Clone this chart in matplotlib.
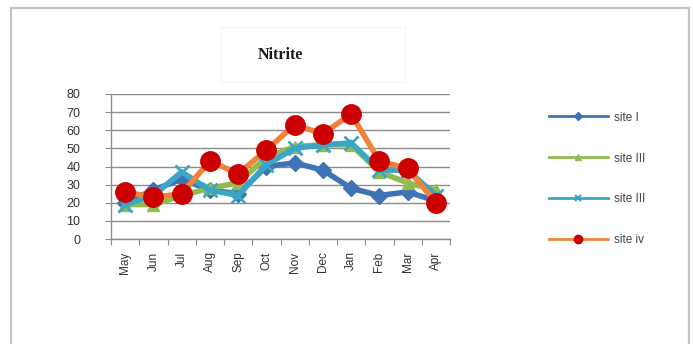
import matplotlib
matplotlib.use("Agg")
import matplotlib.pyplot as plt
from matplotlib.lines import Line2D
from matplotlib.patches import Rectangle

months = ["May", "Jun", "Jul", "Aug", "Sep", "Oct", "Nov", "Dec", "Jan", "Feb", "Mar", "Apr"]
site_1 = [20, 27, 33, 27, 25, 40, 42, 38, 28, 24, 26, 21]
site_2 = [19, 19, 24, 28, 31, 45, 51, 52, 52, 37, 31, 27]
site_3 = [19, 24, 37, 27, 24, 41, 50, 52, 53, 38, 38, 24]
site_4 = [26, 23, 25, 43, 36, 49, 63, 58, 69, 43, 39, 20]
labels = ["site I", "site III", "site III", "site iv"]
yticks = [0, 10, 20, 30, 40, 50, 60, 70, 80]

W, H = 693, 344
fig = plt.figure(figsize=(W / 100, H / 100), dpi=100)
fig.patch.set_facecolor("white")

# chart area border (bottom edge falls outside the image)
fig.add_artist(Rectangle((11 / W, -0.05), (689 - 11) / W, 1.05 - 8 / H, transform=fig.transFigure,
                         fill=False, edgecolor="#c4c4c4", linewidth=1.6))
# faint title box
fig.add_artist(Rectangle((220 / W, 1 - 82 / H), (405 - 220) / W, (82 - 27) / H,
                         transform=fig.transFigure, fill=False, edgecolor="#f5f5f5", linewidth=0.8))
fig.text(280 / W, 1 - 55 / H, "Nitrite", ha="center", va="center",
         family="Liberation Serif", fontweight="bold", fontsize=11.5, color="#1a1a1a")

ax = fig.add_axes([111 / W, 1 - 239 / H, (450 - 111) / W, (239 - 94) / H])
x = list(range(len(months)))

ax.set_xlim(-0.5, len(months) - 0.5)
ax.set_ylim(0, 80)
ax.set_yticks(yticks)
ax.set_yticklabels([str(v) for v in yticks])
ax.yaxis.grid(True, color="#8c8c8c", linewidth=1.0)
ax.set_axisbelow(True)
for s in ["top", "right"]:
    ax.spines[s].set_visible(False)
for s in ["left", "bottom"]:
    ax.spines[s].set_color("#8c8c8c")
    ax.spines[s].set_linewidth(1.0)

ax.set_xticks([i - 0.5 for i in range(len(months) + 1)])
ax.set_xticklabels([])
ax.set_xticks(x, minor=True)
ax.set_xticklabels(months, minor=True, rotation=90, fontsize=8.5, color="#333333",
                   family="Liberation Sans")
ax.tick_params(axis="x", which="major", length=4, color="#8c8c8c", direction="out")
ax.tick_params(axis="x", which="minor", length=0, pad=9)
ax.tick_params(axis="y", length=4, color="#8c8c8c", direction="out", labelsize=9,
               labelcolor="#333333", pad=18)
for t in ax.get_yticklabels():
    t.set_family("Liberation Sans")

c1, c2, c3, c4 = "#3f73b5", "#8fbc4f", "#3aa6c7", "#f0833a"
ax.plot(x, site_1, color=c1, lw=4, marker="D", ms=8, mfc=c1, mec=c1, zorder=3)
ax.plot(x, site_2, color=c2, lw=4, marker="^", ms=9, mfc=c2, mec=c2, zorder=4)
ax.plot(x, site_3, color=c3, lw=4, marker="x", ms=10, mew=2, mfc=c3, mec=c3, zorder=5)
ax.plot(x, site_4, color=c4, lw=4, marker="o", ms=14, mfc="#cc0000", mec="#cc0000", zorder=6)

handles = [
    Line2D([], [], color=c1, lw=2, marker="D", ms=4, mfc=c1, mec=c1),
    Line2D([], [], color=c2, lw=2, marker="^", ms=5, mfc=c2, mec=c2),
    Line2D([], [], color=c3, lw=2, marker="x", ms=5, mew=1.5, mec=c3),
    Line2D([], [], color=c4, lw=2, marker="o", ms=6, mfc="#cc0000", mec="#cc0000"),
]
leg = fig.legend(handles, labels, loc="center left", bbox_to_anchor=(538 / W, 1 - 179 / H),
                 frameon=False, labelspacing=2.45, handlelength=5.0,
                 handletextpad=0.5, prop={"family": "Liberation Sans", "size": 8.5})
for t in leg.get_texts():
    t.set_color("#444444")

fig.savefig("out.png", dpi=100, facecolor="white")
